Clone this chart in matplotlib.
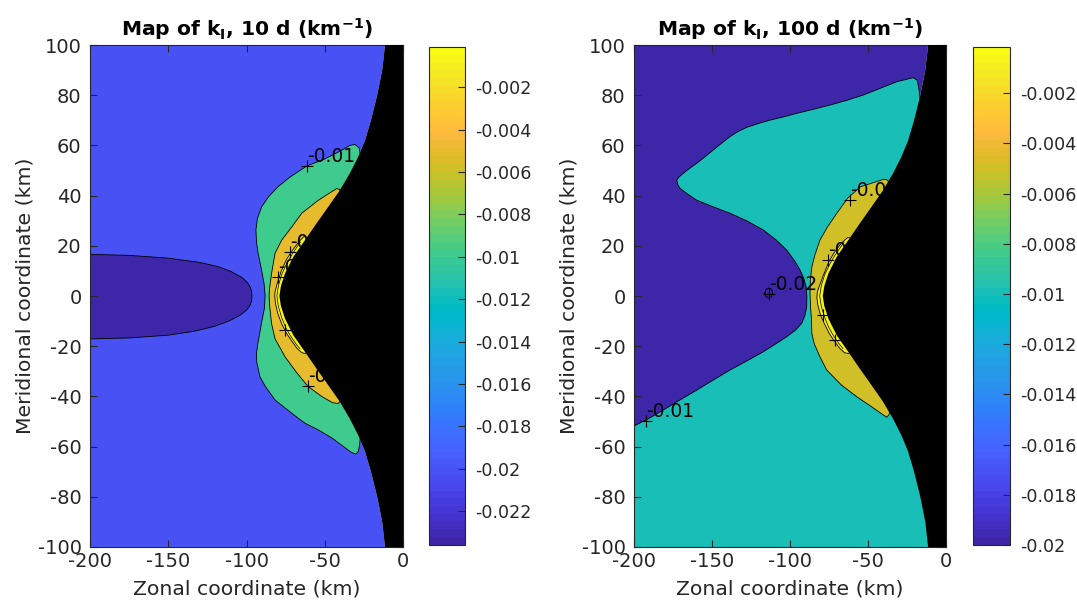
"""Maps of k_I after 10 d and 100 d (MATLAB-style filled contours)."""
import matplotlib
matplotlib.use("Agg")
import matplotlib.pyplot as plt
from matplotlib.colors import ListedColormap, Normalize
from matplotlib.cm import ScalarMappable

plt.rcParams["font.family"] = ["DejaVu Sans"]
plt.rcParams["font.size"] = 14
plt.rcParams["axes.unicode_minus"] = False
plt.rcParams["mathtext.fontset"] = "dejavusans"

# parula (64 colours)
PARULA = [
    (0.2422, 0.1504, 0.6603), (0.2504, 0.1650, 0.7076), (0.2578, 0.1818, 0.7511), (0.2647, 0.1978, 0.7952),
    (0.2706, 0.2147, 0.8364), (0.2751, 0.2342, 0.8710), (0.2783, 0.2559, 0.8991), (0.2803, 0.2782, 0.9221),
    (0.2813, 0.3006, 0.9414), (0.2810, 0.3228, 0.9579), (0.2795, 0.3447, 0.9717), (0.2760, 0.3667, 0.9829),
    (0.2699, 0.3892, 0.9906), (0.2602, 0.4123, 0.9952), (0.2440, 0.4358, 0.9988), (0.2206, 0.4603, 0.9973),
    (0.1963, 0.4847, 0.9892), (0.1834, 0.5074, 0.9798), (0.1786, 0.5289, 0.9682), (0.1764, 0.5499, 0.9520),
    (0.1687, 0.5703, 0.9359), (0.1540, 0.5902, 0.9218), (0.1460, 0.6091, 0.9079), (0.1380, 0.6276, 0.8973),
    (0.1248, 0.6459, 0.8883), (0.1113, 0.6635, 0.8763), (0.0952, 0.6798, 0.8598), (0.0689, 0.6948, 0.8394),
    (0.0297, 0.7082, 0.8163), (0.0036, 0.7203, 0.7917), (0.0067, 0.7312, 0.7660), (0.0433, 0.7411, 0.7394),
    (0.0964, 0.7500, 0.7120), (0.1408, 0.7584, 0.6842), (0.1717, 0.7670, 0.6554), (0.1938, 0.7758, 0.6251),
    (0.2161, 0.7843, 0.5923), (0.2470, 0.7918, 0.5567), (0.2906, 0.7973, 0.5188), (0.3406, 0.8008, 0.4789),
    (0.3909, 0.8029, 0.4354), (0.4456, 0.8024, 0.3909), (0.5044, 0.7993, 0.3480), (0.5616, 0.7942, 0.3045),
    (0.6174, 0.7876, 0.2612), (0.6720, 0.7793, 0.2227), (0.7242, 0.7698, 0.1910), (0.7738, 0.7598, 0.1646),
    (0.8203, 0.7498, 0.1535), (0.8634, 0.7406, 0.1596), (0.9035, 0.7330, 0.1774), (0.9393, 0.7288, 0.2100),
    (0.9728, 0.7298, 0.2394), (0.9956, 0.7434, 0.2371), (0.9970, 0.7659, 0.2199), (0.9952, 0.7893, 0.2028),
    (0.9892, 0.8136, 0.1885), (0.9786, 0.8386, 0.1766), (0.9676, 0.8639, 0.1643), (0.9610, 0.8890, 0.1537),
    (0.9597, 0.9135, 0.1423), (0.9628, 0.9373, 0.1265), (0.9691, 0.9606, 0.1064), (0.9769, 0.9839, 0.0805),
]
cmap = ListedColormap(PARULA)

# edge of the black (no data) zone, same on both maps
edge_x = [-11.5, -13.3, -16.5, -20.5, -24.3, -28.6, -33.9, -40.5, -47.7, -55.2, -62.6, -70, -75.4, -78, -79,
          -78, -75.4, -70, -62.6, -55.2, -47.7, -40.5, -33.9, -28.6, -24.3, -20.5, -16.5, -13.3, -11.5]
edge_y = [100, 90, 80, 70, 62, 55.5, 49, 42, 35.6, 29, 22.3, 15.7, 9, 4, 0,
          -4, -9, -15.7, -22.3, -29, -35.6, -42, -49, -55.5, -62, -70, -80, -90, -100]

# ---- 10 d map ----
clim10 = (-0.0236, -0.0001)
bg10 = -0.02
ell10_level = -0.0236
ell10_x = [-200, -175, -150, -130, -118, -110, -103, -99.5, -97.6, -96.7, -96.5, -96.8, -97.8,
           -100, -104, -111, -120, -133, -150, -175, -200]
ell10_y = [16.6, 16.2, 15.1, 13.4, 11.7, 9.8, 7.4, 5.4, 3.5, 1.7, -0.2, -2.0, -3.8,
           -5.6, -7.6, -9.9, -12.0, -14.0, -15.6, -16.7, -17.1]
green10_level = -0.01
green10_x = [-27, -28, -30.7, -34, -40, -50, -61.5, -72, -80, -86, -90.3, -93, -94, -93.6, -92.6,
             -90.6, -88.8, -88.1, -88.6, -90.5, -92.7, -93.6, -93.5, -91.4, -88, -81.8, -75.4, -68,
             -62.6, -54, -45.6, -38, -33, -30.2, -28.6, -27.8, -27.3]
green10_y = [55, 59, 60.4, 60.0, 57.8, 54.6, 51.8, 47.5, 43.5, 39.5, 35.6, 31, 26.3, 21.5, 17,
             11, 5, 0, -5, -11, -18.8, -22.5, -26.2, -32.2, -36, -41.4, -44.6, -48.2,
             -50.7, -53.4, -56.5, -60, -62.3, -63, -62, -59.5, -56.6]
orange10_level = -0.005
orange10_x = [-39, -40.6, -42.4, -47, -54, -64.7, -71, -77.5, -81.8, -84, -85.3, -85.6, -85.2, -84,
              -81.8, -75.4, -68, -60.7, -52, -45, -41.5, -39.8, -39.5]
orange10_y = [40, 42.5, 42.8, 41, 38.2, 33, 27.6, 22.3, 17, 9, 3, 0, -4, -11,
              -17, -24.2, -30.5, -36, -40, -42.5, -42.8, -41.8, -40]
yellow10_level = -0.001
yellow10_x = [-60.5, -62, -63.5, -66, -68.5, -71.5, -74.5, -77.8, -80.4, -81.7, -82, -81.5, -80,
              -77.6, -74.3, -71, -67.8, -64.6, -62.4, -61, -60]
yellow10_y = [22, 23.6, 23.6, 22, 20, 17.5, 14.5, 10, 5, 2, 0, -3, -7,
              -11, -15, -18, -20.8, -22.6, -22.9, -22, -21]
yin10_x = [-65.5, -67.8, -71, -74.3, -77.6, -79.7, -80.6, -79.7, -77.6, -75, -71.8, -68.5, -65.9]
yin10_y = [21.5, 19.5, 16.5, 13, 8.5, 4, 0, -4, -8.5, -12.5, -16, -19, -21]
marks10_x = [-61.5, -72.2, -80, -75.4, -60.7]
marks10_y = [51.8, 17.6, 7.7, -13.5, -35.9]
marks10_text = ["-0.01", "-0.001", "-0.001", "-0.001", "-0.005"]
cb10_ticks = [-0.022, -0.02, -0.018, -0.016, -0.014, -0.012, -0.01, -0.008, -0.006, -0.004, -0.002]
cb10_labels = ["-0.022", "-0.02", "-0.018", "-0.016", "-0.014", "-0.012", "-0.01",
               "-0.008", "-0.006", "-0.004", "-0.002"]

# ---- 100 d map ----
clim100 = (-0.02, -0.00016)
bg100 = -0.02
teal100_level = -0.01
teal100_x = [-16.6, -16.8, -17.5, -18.5, -21, -31.6, -42, -53, -63.5, -74.4, -85, -95.7, -104, -112.8,
             -120, -127.8, -133.5, -138.5, -144, -149.2, -154.5, -159.8, -164.5, -168.4, -171.2,
             -172.6, -172, -170.5, -166, -159.8, -149.5, -138.5, -127.5, -117.1, -109, -102.1,
             -97.3, -93.6, -91.2, -89.7, -89.2, -89.3, -90.4, -92.5, -96.5, -102.1, -109, -117.1,
             -127.5, -138.5, -149, -159.8, -170.5, -181.2, -190, -200]
teal100_y = [78, 79.5, 83, 86, 87, 85.4, 82.8, 80.1, 78, 76.1, 74.4, 72.8, 71.4, 70.1,
             68.8, 67.2, 65.5, 63.5, 60.8, 58.2, 55.5, 52.9, 50.8, 48.9, 47.4,
             46.2, 44.4, 42.9, 40.8, 38.2, 35.6, 33, 29.9, 26.3, 22.4, 18.3,
             14.2, 10.4, 7.1, 3.7, 0, -4.3, -7.6, -10.9, -13.6, -16.2, -19, -22.2,
             -25.8, -29.5, -33.4, -37.5, -41.4, -45.4, -48.6, -51.8]
olive100_level = -0.005
olive100_x = [-35.5, -36.5, -38.5, -41, -46, -55, -63, -70, -76, -80.8, -84, -86, -87, -87.2, -86.9,
              -86.3, -86, -84.5, -81, -76.5, -67, -57.3, -48, -40.2, -38, -36.5, -35.5]
olive100_y = [43, 45.5, 46.5, 46.3, 45.3, 43.5, 39, 33, 27.5, 22.3, 16.5, 11.7, 6, 1, -4,
              -9, -15, -19, -24, -29.5, -35.5, -40.1, -44, -47.4, -48.3, -47.2, -44]
yellow100_level = -0.001
yellow100_x = [-60.5, -61.5, -63, -65.5, -68.5, -72, -75.2, -78.5, -81.2, -82.5, -82.8, -82.2, -80.5,
               -78, -74.8, -71.5, -68.2, -65, -62.5, -61, -60]
yellow100_y = [22, 23.1, 23.3, 22, 20, 17, 13.5, 8.5, 4, 1.5, -0.5, -3.5, -7.5,
               -11, -15, -18, -20.8, -22.6, -22.9, -22, -21]
yin100_x = [-65.3, -67.6, -71, -74.3, -77.8, -80, -81, -80, -77.8, -75.2, -72, -68.6, -66]
yin100_y = [21.5, 19.5, 16.5, 13, 8.5, 4, 0, -4, -8.5, -12.5, -16, -19, -21]
ring100_x = [-116.1, -115.4, -113.6, -111.8, -111.1, -111.8, -113.6, -115.4, -116.1]
ring100_y = [1.2, 2.6, 3.2, 2.6, 1.2, -0.2, -0.8, -0.2, 1.2]
marks100_x = [-61.5, -113.6, -192.3, -75.4, -79, -71.2]
marks100_y = [38.2, 0.8, -49.7, 14.3, -7.6, -17.5]
marks100_text = ["-0.005", "-0.02", "-0.01", "-0.001", "-0.001", "-0.001"]
cb100_ticks = [-0.02, -0.018, -0.016, -0.014, -0.012, -0.01, -0.008, -0.006, -0.004, -0.002]
cb100_labels = ["-0.02", "-0.018", "-0.016", "-0.014", "-0.012", "-0.01",
                "-0.008", "-0.006", "-0.004", "-0.002"]

DARK = "#262626"


def region(ax, xs, ys, color, tail):
    """Fill a contour band; tail closes the polygon outside the visible curve."""
    px = list(xs) + [p[0] for p in tail]
    py = list(ys) + [p[1] for p in tail]
    ax.fill(px, py, color=color, lw=0, zorder=1)
    ax.plot(xs, ys, color="k", lw=0.6, zorder=2)


def style(ax, title):
    ax.set_xlim(-200, 0)
    ax.set_ylim(-100, 100)
    ax.set_xticks([-200, -150, -100, -50, 0])
    ax.set_yticks(range(-100, 101, 20))
    ax.tick_params(direction="in", top=True, right=True, length=5, width=0.8,
                   colors=DARK, labelsize=14)
    ax.tick_params(axis="y", pad=6)
    for s in ax.spines.values():
        s.set_color(DARK)
        s.set_linewidth(0.8)
    ax.set_xlabel("Zonal coordinate (km)", color=DARK, fontsize=14.7, labelpad=6)
    ax.set_ylabel("Meridional coordinate (km)", color=DARK, fontsize=14.7, labelpad=2)
    ax.set_title(title, fontsize=14.6, fontweight="bold", pad=7)


def labels(ax, xs, ys, texts):
    ax.plot(xs, ys, "k+", ms=9, mew=0.8, zorder=3)
    for x, y, t in zip(xs, ys, texts):
        ax.text(x, y, t, ha="left", va="bottom", fontsize=13.5, zorder=3)


def black_zone(ax):
    ax.fill(edge_x + [1, 1], edge_y + [-101, 101], color="k", lw=0, zorder=4)


def colorbar(fig, rect, norm, ticks, ticklabels):
    cax = fig.add_axes(rect)
    cb = fig.colorbar(ScalarMappable(norm=norm, cmap=cmap), cax=cax)
    cb.set_ticks(ticks)
    cb.set_ticklabels(ticklabels)
    cax.tick_params(direction="in", length=5, width=0.8, colors=DARK, labelsize=12.6, pad=7)
    cb.outline.set_edgecolor(DARK)
    cb.outline.set_linewidth(0.8)


fig = plt.figure(figsize=(10.77, 6.04), dpi=100)

# left: 10 d
ax1 = fig.add_axes([0.0836, 0.0944, 0.2906, 0.831])
n10 = Normalize(*clim10)
c10 = lambda v: cmap(n10(v))
ax1.fill(edge_x + [-200, -200], edge_y + [-100, 100], color=c10(bg10), lw=0, zorder=1)
region(ax1, ell10_x, ell10_y, c10(ell10_level), [])
region(ax1, green10_x, green10_y, c10(green10_level), [(0, green10_y[-1]), (0, green10_y[0])])
region(ax1, orange10_x, orange10_y, c10(orange10_level), [(0, orange10_y[-1]), (0, orange10_y[0])])
region(ax1, yellow10_x, yellow10_y, c10(yellow10_level), [(0, yellow10_y[-1]), (0, yellow10_y[0])])
ax1.plot(yin10_x, yin10_y, color="k", lw=0.5, zorder=2)
labels(ax1, marks10_x, marks10_y, marks10_text)
black_zone(ax1)
style(ax1, r"Map of k$_\mathbf{I}$, 10 d (km$^{\mathbf{-1}}$)")
colorbar(fig, [0.3983, 0.0977, 0.0334, 0.8245], n10, cb10_ticks, cb10_labels)

# right: 100 d
ax2 = fig.add_axes([0.5887, 0.0944, 0.2897, 0.831])
n100 = Normalize(*clim100)
c100 = lambda v: cmap(n100(v))
ax2.fill(edge_x + [-200, -200], edge_y + [-100, 100], color=c100(bg100), lw=0, zorder=1)
region(ax2, teal100_x, teal100_y, c100(teal100_level),
       [(-200, -100), (0, -100), (0, teal100_y[0])])
region(ax2, olive100_x, olive100_y, c100(olive100_level), [(0, olive100_y[-1]), (0, olive100_y[0])])
region(ax2, yellow100_x, yellow100_y, c100(yellow100_level),
       [(0, yellow100_y[-1]), (0, yellow100_y[0])])
ax2.plot(yin100_x, yin100_y, color="k", lw=0.5, zorder=2)
ax2.plot(ring100_x, ring100_y, color="k", lw=0.7, zorder=2)
labels(ax2, marks100_x, marks100_y, marks100_text)
black_zone(ax2)
style(ax2, r"Map of k$_\mathbf{I}$, 100 d (km$^{\mathbf{-1}}$)")
colorbar(fig, [0.9034, 0.0977, 0.0344, 0.8245], n100, cb100_ticks, cb100_labels)

fig.savefig("out.png", dpi=100)
